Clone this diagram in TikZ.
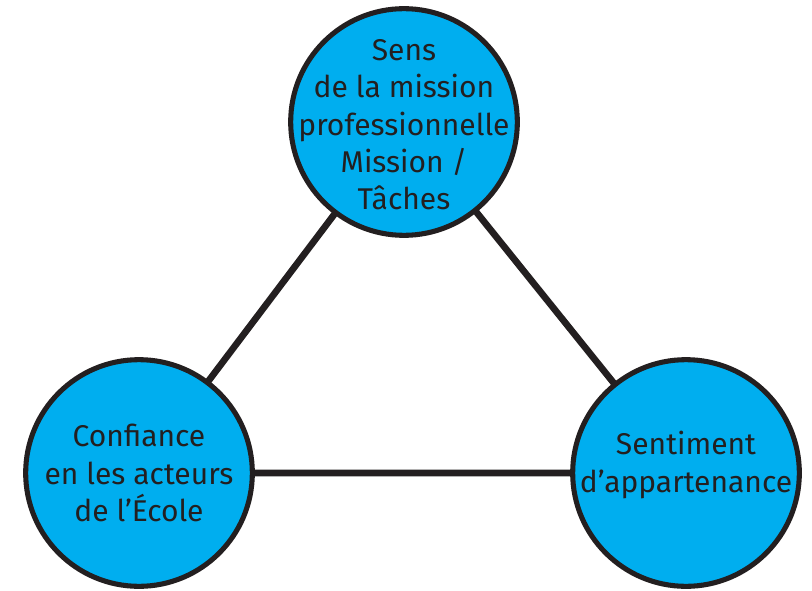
\documentclass[tikz,border=0pt]{standalone}
\usepackage{fontspec}
\setmainfont{Fira Sans}
\usepackage{tikz}
\usetikzlibrary{calc}

\definecolor{bulle}{HTML}{00AEEF}
\definecolor{trait}{HTML}{231F20}

\tikzset{
	bubble/.style={circle, draw=trait, fill=bulle, line width=3.8pt, minimum size=170pt, inner sep=0pt},
	bubbletext/.style={align=center, text=trait, font=\fontsize{22.5pt}{28pt}\selectfont},
	link/.style={draw=trait, line width=5pt}
}

\begin{document}
\begin{tikzpicture}[x=1pt,y=1pt]
	\useasboundingbox (0,0) rectangle (609,442.5);

	\coordinate (S) at (303,351);
	\coordinate (C) at (104.25,87.75);
	\coordinate (A) at (514.5,87.75);

	% Triangle behind the bubbles
	\draw[link] (S) -- (C) -- (A) -- cycle;

	% Bubbles
	\node[bubble] (sens) at (S) {};
	\node[bubble] (confiance) at (C) {};
	\node[bubble] (appartenance) at (A) {};

	% Texts
	\node[bubbletext] (sens-txt) at ($(sens)+(0,-2)$) {Sens\\de la mission\\professionnelle\\Mission /\\Tâches};
	\node[bubbletext] (confiance-txt) at (confiance) {Confiance\\en les acteurs\\de l’École};
	\node[bubbletext] (appartenance-txt) at ($(appartenance)+(0,6)$) {Sentiment\\d’appartenance};
\end{tikzpicture}
\end{document}
